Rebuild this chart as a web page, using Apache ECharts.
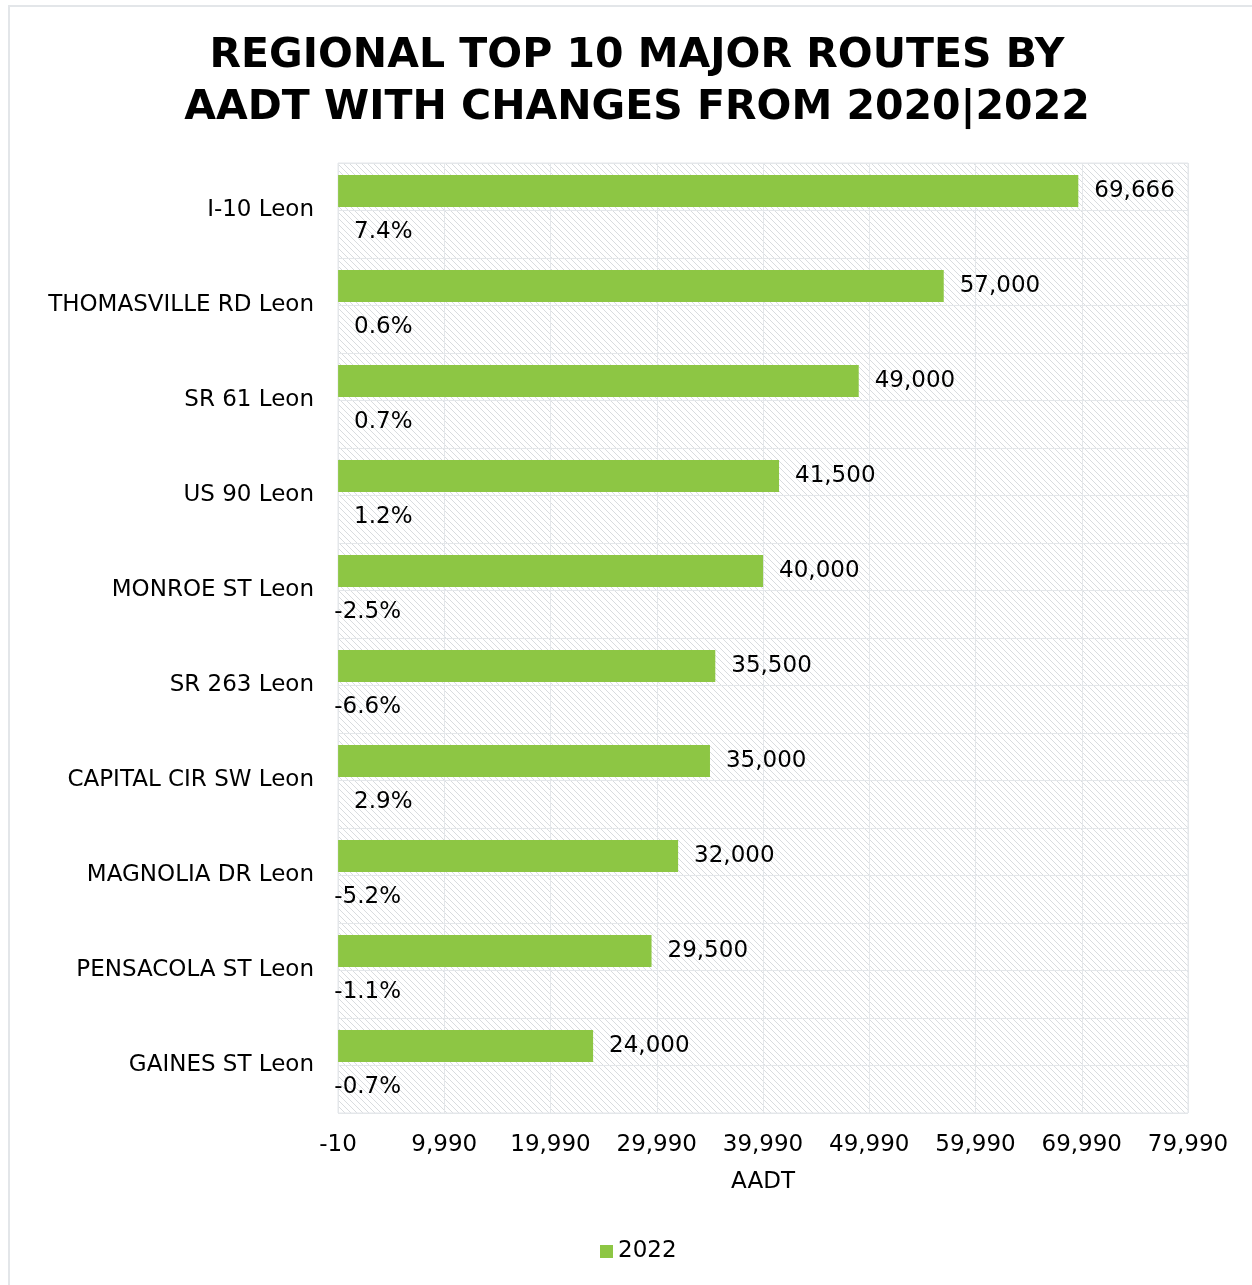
<!DOCTYPE html>
<html>
<head>
<meta charset="utf-8">
<script src="https://cdn.jsdelivr.net/npm/echarts@6/dist/echarts.min.js"></script>
<style>
html,body{margin:0;padding:0;background:#fff;}
#chart{width:1252px;height:1285px;}
</style>
</head>
<body>
<div id="chart"></div>
<script>
const categories = ['I-10 Leon','THOMASVILLE RD Leon','SR 61 Leon','US 90 Leon','MONROE ST Leon','SR 263 Leon','CAPITAL CIR SW Leon','MAGNOLIA DR Leon','PENSACOLA ST Leon','GAINES ST Leon'];
const aadt2022 = [69666, 57000, 49000, 41500, 40000, 35500, 35000, 32000, 29500, 24000];
const changePct = [7.4, 0.6, 0.7, 1.2, -2.5, -6.6, 2.9, -5.2, -1.1, -0.7];
const seriesName = '2022';
const axisName = 'AADT';
const titleText = 'REGIONAL TOP 10 MAJOR ROUTES BY\nAADT WITH CHANGES FROM 2020|2022';

const FONT = 'DejaVu Sans';
const TFONT = 'DejaVu Sans';
const FS = 23;
const GREEN = '#8dc644';

// hatch pattern for plot background
const pc = document.createElement('canvas');
pc.width = 6; pc.height = 6;
const px = pc.getContext('2d');
px.fillStyle = '#ffffff'; px.fillRect(0,0,6,6);
px.strokeStyle = '#d9dcdf'; px.lineWidth = 1;
px.beginPath();
px.moveTo(-1,-1); px.lineTo(7,7);
px.moveTo(-1,5); px.lineTo(1,7);
px.moveTo(5,-1); px.lineTo(7,1);
px.stroke();

const halfRows = categories.flatMap((c,i)=>[c+'#a', c+'#b']);

const chart = echarts.init(document.getElementById('chart'), null, {renderer:'canvas'});
chart.setOption({
  backgroundColor:'#ffffff',
  animation:false,
  title:{
    text:titleText, left:632, top:25, textAlign:'center',
    textStyle:{fontFamily:TFONT, fontWeight:'bold', fontSize:41, lineHeight:52, color:'#000'}
  },
  graphic:[{
    type:'rect', shape:{x:9,y:6,width:1260,height:1300}, silent:true,
    style:{fill:null, stroke:'#e3e6e9', lineWidth:2}
  }],
  legend:{
    data:[seriesName], bottom:17, left:595, itemWidth:13, itemHeight:13, icon:'rect', itemGap:6,
    textStyle:{fontFamily:FONT, fontSize:FS, color:'#000'}
  },
  grid:{
    left:338, right:64, top:163, bottom:172, show:true,
    borderColor:'#e4e7ea', borderWidth:1,
    backgroundColor:{image:pc, repeat:'repeat'}
  },
  xAxis:{
    type:'value', min:-10, max:79990, interval:10000,
    name:axisName, nameLocation:'middle', nameGap:58,
    nameTextStyle:{fontFamily:FONT, fontSize:FS, color:'#000'},
    axisLine:{show:false}, axisTick:{show:false},
    axisLabel:{fontFamily:FONT, fontSize:FS, color:'#000', margin:21,
      formatter:v=>Math.round(v).toLocaleString('en-US')},
    splitLine:{show:true, lineStyle:{color:'#e4e7ea', width:1}}
  },
  yAxis:[{
    type:'category', data:categories, inverse:true,
    axisLine:{show:false}, axisTick:{show:false}, splitLine:{show:false},
    axisLabel:{fontFamily:FONT, fontSize:FS, color:'#000', margin:24}
  },{
    type:'category', data:halfRows, inverse:true, position:'left',
    axisLine:{show:false}, axisTick:{show:false}, axisLabel:{show:false},
    splitLine:{show:true, lineStyle:{color:'#e4e7ea', width:1}}
  }],
  series:[{
    name:seriesName, type:'bar', yAxisIndex:0, data:aadt2022,
    barWidth:32, barGap:'22%',
    itemStyle:{color:GREEN},
    label:{show:true, position:'right', distance:16, fontFamily:FONT, fontSize:FS, color:'#000',
      formatter:p=>p.value.toLocaleString('en-US')}
  },{
    name:'Change', type:'bar', yAxisIndex:0, barWidth:32,
    itemStyle:{color:'rgba(0,0,0,0)'},
    data:changePct.map(v=>({
      value:v,
      label:{show:true, position: v>=0 ? [16,'50%'] : [63,'50%'], align: v>=0 ? 'left':'right',
        verticalAlign:'middle', offset:[0,2], fontFamily:FONT, fontSize:FS, color:'#000',
        formatter:p=>p.value.toFixed(1)+'%'}
    }))
  }]
});
</script>
</body>
</html>
